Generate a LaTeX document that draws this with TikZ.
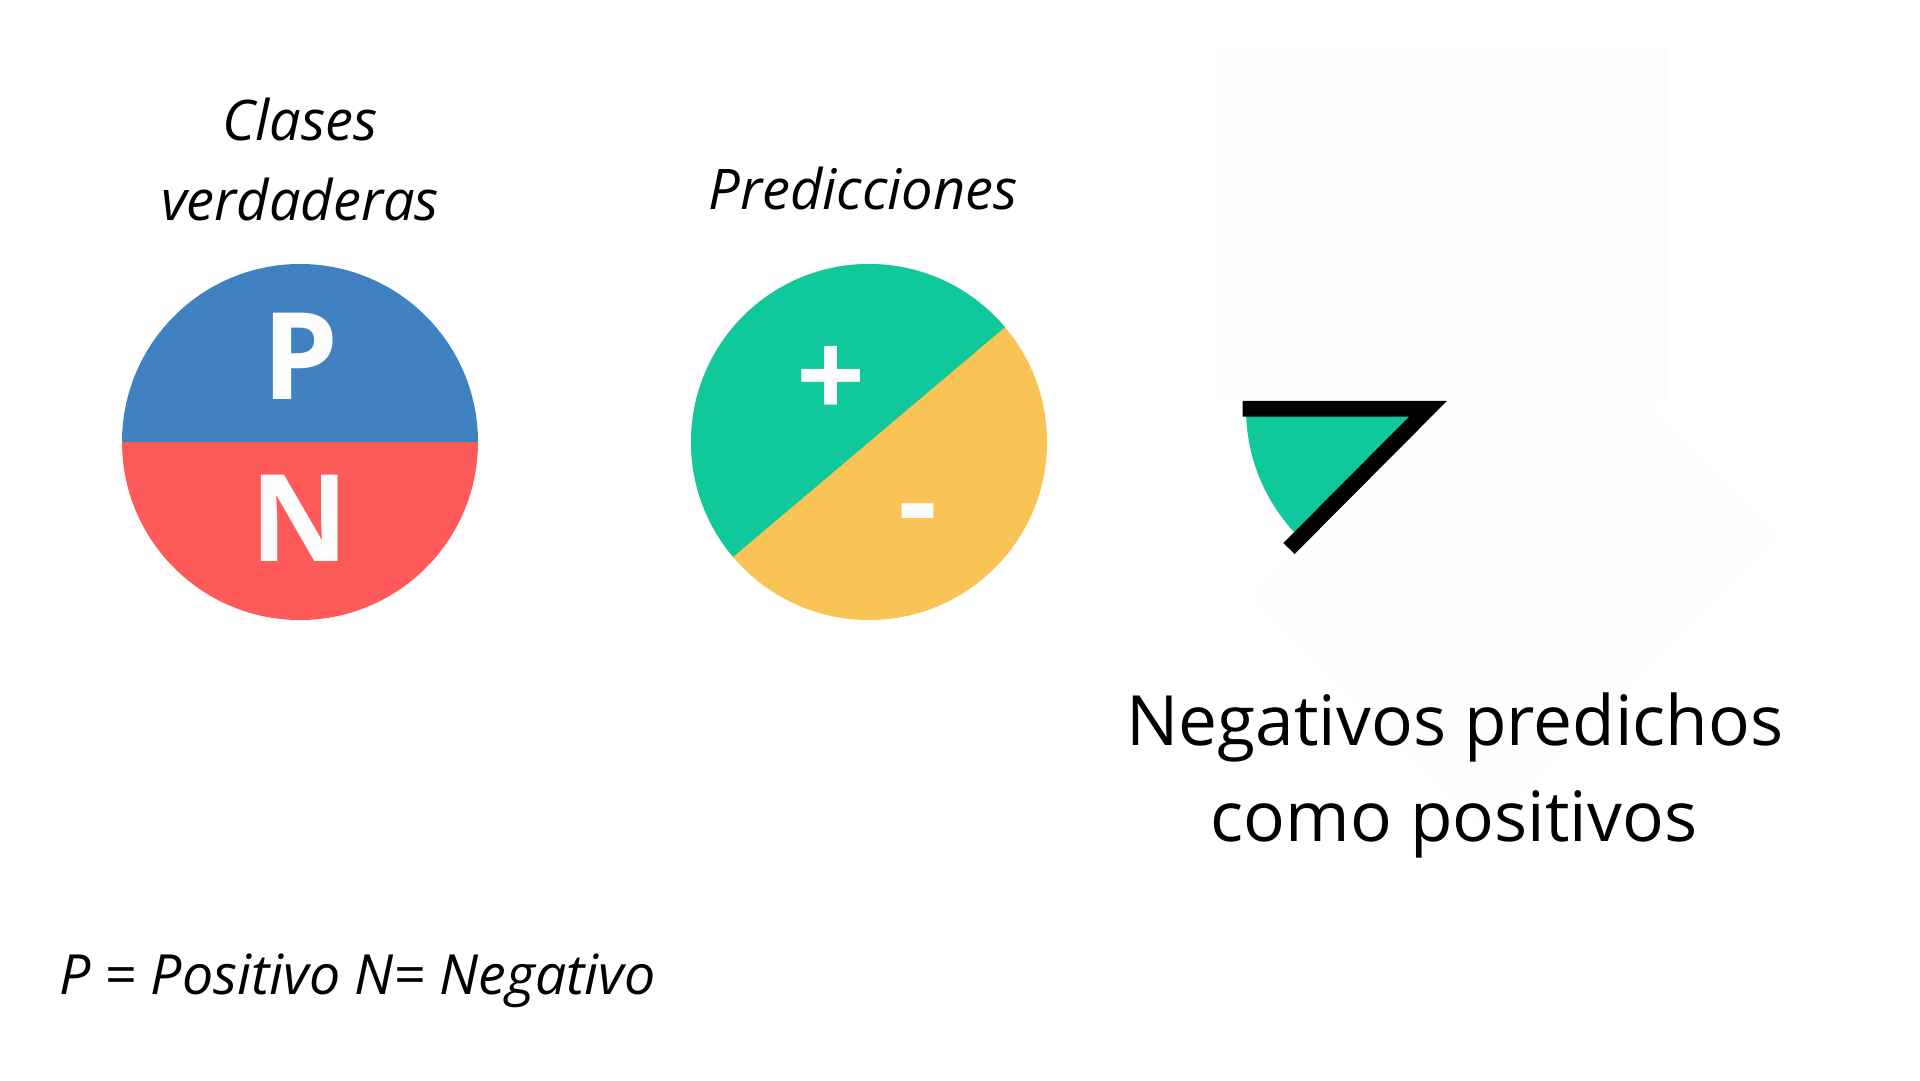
\documentclass[tikz,border=0pt]{standalone}
\usepackage{fontspec}
\setmainfont{Open Sans}
\definecolor{pblue}{HTML}{3F81C1}
\definecolor{nred}{HTML}{FF5A5A}
\definecolor{pgreen}{HTML}{0FC89C}
\definecolor{nyellow}{HTML}{F9C356}
\definecolor{ghost}{HTML}{FDFDFD}
\definecolor{glyph}{HTML}{FDFDFD}
\tikzset{
  lbl/.style={inner sep=0pt, font=\itshape\fontsize{56}{80}\selectfont},
  big/.style={inner sep=0pt, text=glyph, font=\bfseries\fontsize{121}{140}\selectfont},
  caption/.style={inner sep=0pt, font=\fontsize{69.4}{96}\selectfont},
  edge/.style={line width=15.7pt, line join=miter, line cap=butt}
}
\begin{document}
\begin{tikzpicture}[x=1pt,y=-1pt]
\useasboundingbox[fill=white] (0,0) rectangle (1920,1080);
% faint background shapes
\fill[ghost] (1218,45) rectangle (1668,403);
\fill[ghost] (1251,595) -- (1545,301) -- (1781,536) -- (1487,831) -- cycle;
% circle 1
\begin{scope}
  \clip (300,442) circle[radius=178];
  \fill[pblue] (100,200) rectangle (500,442);
  \fill[nred] (100,442) rectangle (500,700);
\end{scope}
\node[big, anchor=base] (P) at (300,399) {P};
\node[big, anchor=base] (N) at (299.5,561) {N};
% circle 2
\begin{scope}
  \clip (869,442) circle[radius=178];
  \fill[nyellow] (600,200) rectangle (1100,700);
  \fill[pgreen] (640,635.5) -- (1098,248.5) -- (1098,200) -- (600,200) -- (600,635.5) -- cycle;
\end{scope}
\node[big] (plus) at (831,382.5) {+};
\node[big] (minus) at (918,523.5) {-};
% wedge
\coordinate (wc) at (1428,408.8);
\begin{scope}
  \clip (wc) circle[radius=182];
  \fill[pgreen] (wc) -- (1128,408.8) -- (1128,708.8) -- cycle;
\end{scope}
\coordinate (hl) at (1242.7,408.8);
\coordinate (de) at (1289,548.5);
\draw[edge] (hl) -- (wc) -- (de);
% labels
\node[lbl, anchor=base] (t1) at (300,140) {Clases};
\node[lbl, anchor=base] (t2) at (300,220) {verdaderas};
\node[lbl, anchor=base] (t3) at (863,209) {Predicciones};
\node[lbl, anchor=base west, font=\itshape\fontsize{55.4}{80}\selectfont] (t4) at (59,994) {P = Positivo N= Negativo};
\node[caption, anchor=base] (c1) at (1455,745) {Negativos predichos};
\node[caption, anchor=base] (c2) at (1454,841) {como positivos};
\end{tikzpicture}
\end{document}
